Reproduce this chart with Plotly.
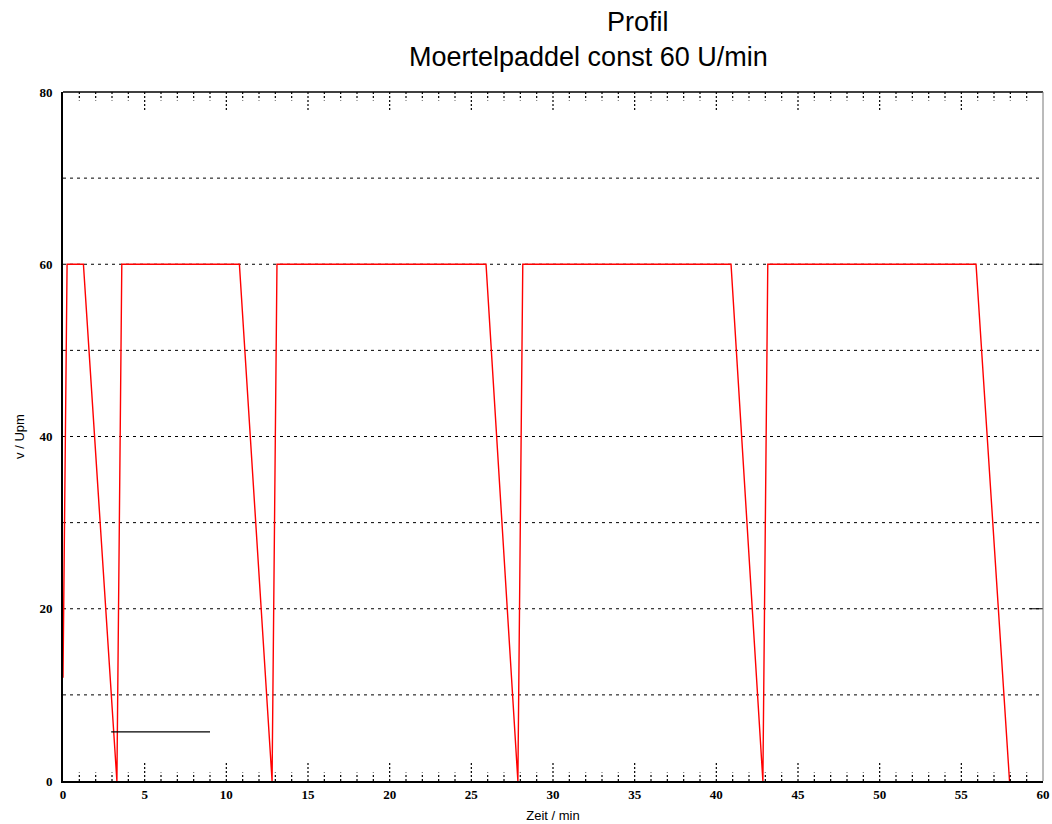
import plotly.graph_objects as go

# speed profile of the mortar paddle (time in min, speed in U/min)
zeit = [0, 0.25, 1.25, 3.3, 3.6, 10.8, 12.8, 13.1, 25.9, 27.85, 28.15, 40.9, 42.85, 43.15, 55.9, 57.95]
drehzahl = [12, 60, 60, 0, 60, 60, 0, 60, 60, 0, 60, 60, 0, 60, 60, 0]

# short black reference line
ref_zeit = [2.95, 9.0]
ref_wert = [5.7, 5.7]

x_ticks = [0, 5, 10, 15, 20, 25, 30, 35, 40, 45, 50, 55, 60]
y_ticks = [0, 20, 40, 60, 80]
y_grid = [10, 20, 30, 40, 50, 60, 70]

X_MAX = 60
Y_MAX = 80

W, H = 1052, 824
ML, MR, MT, MB = 63, 9, 92, 43

fig = go.Figure()
fig.add_trace(go.Scatter(x=zeit, y=drehzahl, mode="lines",
                         line=dict(color="#ff0000", width=1.4), showlegend=False))
fig.add_trace(go.Scatter(x=ref_zeit, y=ref_wert, mode="lines",
                         line=dict(color="black", width=1.2), showlegend=False))

shapes = []
# dotted horizontal grid lines
for g in y_grid:
    shapes.append(dict(type="line", xref="paper", yref="y", x0=0, x1=1, y0=g, y1=g,
                       line=dict(color="black", width=1, dash="3px,4px"), layer="below"))
# dotted tick marks on bottom and top edge, every minute, longer every 5 min
for m in range(1, X_MAX):
    major = m % 5 == 0
    h = 2.2 if major else 1.0
    shapes.append(dict(type="line", xref="x", yref="y", x0=m, x1=m, y0=0, y1=h,
                       line=dict(color="black", width=1.2, dash="2px,2px")))
    shapes.append(dict(type="line", xref="x", yref="y", x0=m, x1=m, y0=Y_MAX, y1=Y_MAX - h,
                       line=dict(color="black", width=1.2, dash="2px,2px")))
# short solid marks at the right edge for labelled values
for v in y_ticks[1:-1]:
    shapes.append(dict(type="line", xref="x", yref="y", x0=X_MAX - 0.8, x1=X_MAX, y0=v, y1=v,
                       line=dict(color="black", width=1)))
# top border and right border
shapes.append(dict(type="line", xref="paper", yref="paper", x0=0, x1=1, y0=1, y1=1,
                   line=dict(color="black", width=1.5)))
shapes.append(dict(type="line", xref="paper", yref="paper", x0=1, x1=1, y0=0, y1=1,
                   line=dict(color="#777777", width=1)))

tick_font = dict(family="Liberation Serif", size=13, color="black")
label_font = dict(family="Liberation Sans", size=13, color="black")
title_font = dict(family="Liberation Sans", size=27, color="black")

plot_w = W - ML - MR
plot_h = H - MT - MB


def px_to_paper(px, py):
    return (px - ML) / plot_w, 1 + (MT - py) / plot_h


tx1, ty1 = px_to_paper(638, 22)
tx2, ty2 = px_to_paper(588, 57)

fig.update_layout(
    width=W, height=H,
    margin=dict(l=ML, r=MR, t=MT, b=MB),
    paper_bgcolor="white", plot_bgcolor="white",
    shapes=shapes,
    xaxis=dict(range=[0, X_MAX], tickvals=x_ticks, ticktext=[f"<b>{t}</b>" for t in x_ticks],
               tickfont=tick_font, showgrid=False, zeroline=False, automargin=False,
               showline=True, linecolor="black", linewidth=2, ticks="",
               title=dict(text="Zeit / min", font=label_font, standoff=10)),
    yaxis=dict(range=[0, Y_MAX], tickvals=y_ticks, ticktext=[f"<b>{t}</b>" for t in y_ticks],
               tickfont=tick_font, showgrid=False, zeroline=False, automargin=False,
               showline=True, linecolor="black", linewidth=2, ticks="", ticklabelstandoff=6,
               title=dict(text="v / Upm", font=label_font, standoff=12)),
    annotations=[
        dict(text="Profil", x=tx1, y=ty1, xref="paper", yref="paper", showarrow=False,
             xanchor="center", yanchor="middle", font=title_font),
        dict(text="Moertelpaddel const 60 U/min", x=tx2, y=ty2, xref="paper", yref="paper",
             showarrow=False, xanchor="center", yanchor="middle", font=title_font),
    ],
)

fig.write_html("out.html")
